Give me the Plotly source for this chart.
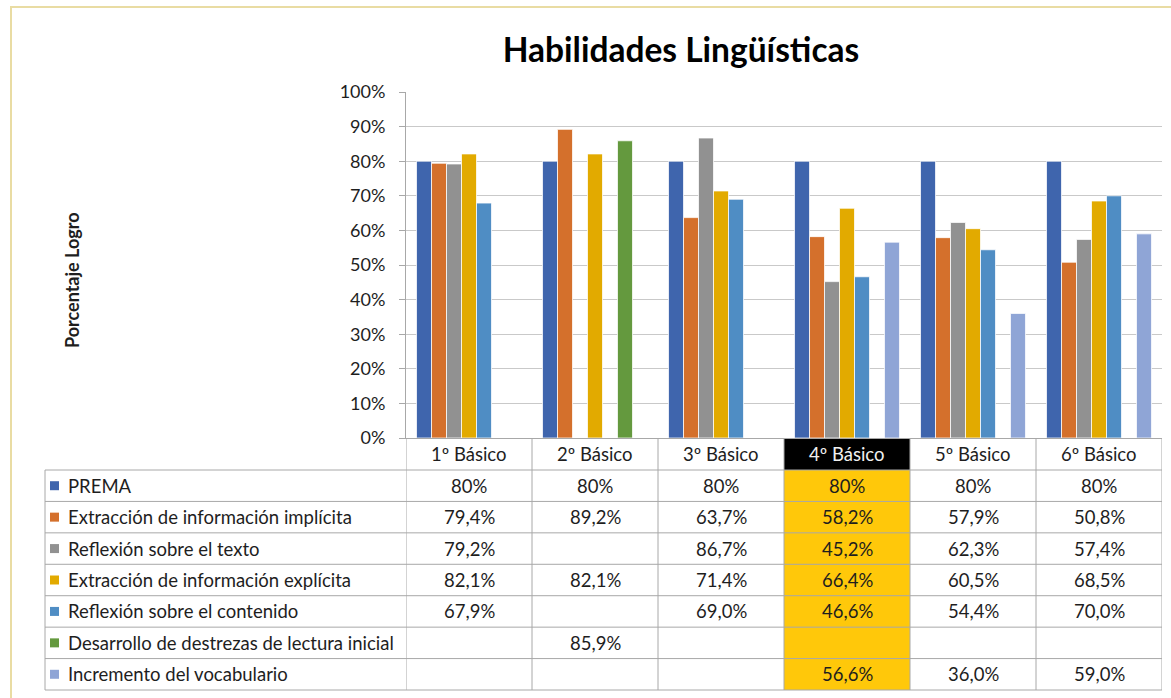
import plotly.graph_objects as go

# ---------------- data ----------------
categories = ["1º Básico", "2º Básico", "3º Básico", "4º Básico", "5º Básico", "6º Básico"]
series_names = [
    "PREMA",
    "Extracción de información implícita",
    "Reflexión sobre el texto",
    "Extracción de información explícita",
    "Reflexión sobre el contenido",
    "Desarrollo de destrezas de lectura inicial",
    "Incremento del vocabulario",
]
prema = [80, 80, 80, 80, 80, 80]
extr_implicita = [79.4, 89.2, 63.7, 58.2, 57.9, 50.8]
reflex_texto = [79.2, None, 86.7, 45.2, 62.3, 57.4]
extr_explicita = [82.1, 82.1, 71.4, 66.4, 60.5, 68.5]
reflex_contenido = [67.9, None, 69.0, 46.6, 54.4, 70.0]
destrezas_lectura = [None, 85.9, None, None, None, None]
vocabulario = [None, None, None, 56.6, 36.0, 59.0]
series_values = [prema, extr_implicita, reflex_texto, extr_explicita,
                 reflex_contenido, destrezas_lectura, vocabulario]
series_decimals = [0, 1, 1, 1, 1, 1, 1]
y_ticks = [0, 10, 20, 30, 40, 50, 60, 70, 80, 90, 100]
y_tick_labels = ["0%", "10%", "20%", "30%", "40%", "50%", "60%", "70%", "80%", "90%", "100%"]
highlight_category = "4º Básico"

# ---------------- style ----------------
colors = ["#3F65AD", "#D4702C", "#919191", "#E2AA00", "#4F8DC4", "#64993E", "#8FA5D6"]
FONT = "Lato"
TXT = "#1e1e1e"
GRID = "#C9C9C9"
TLINE = "#A8A8A8"
FS = 18.5
W, H = 1171, 698
PL, PR, PT, PB = 406, 1162, 92, 438   # plot area pixels

def px(x):
    return (x - PL) / (PR - PL)

def py(y):
    return (PB - y) / (PB - PT)

fig = go.Figure()
for name, vals, col in zip(series_names, series_values, colors):
    fig.add_trace(go.Bar(
        x=categories, y=vals, name=name,
        marker=dict(color=col, line=dict(color="rgba(255,255,255,0.75)", width=1)),
    ))

shapes = []
annotations = []

# frame
shapes.append(dict(type="rect", xref="paper", yref="paper",
                   x0=px(11), x1=px(1185), y0=py(7), y1=py(720),
                   line=dict(color="#E9DCA3", width=2), fillcolor="rgba(0,0,0,0)", layer="below"))

# table geometry
header_top, header_bot = 438, 470
table_left = 45
n_rows = len(series_names)
row_h = (690 - header_bot) / n_rows
hi = categories.index(highlight_category)

# highlight fills
shapes.append(dict(type="rect", xref="x", yref="paper", x0=hi - 0.5, x1=hi + 0.5,
                   y0=py(header_bot), y1=py(header_top), fillcolor="black",
                   line=dict(width=0), layer="below"))
shapes.append(dict(type="rect", xref="x", yref="paper", x0=hi - 0.5, x1=hi + 0.5,
                   y0=py(690), y1=py(header_bot), fillcolor="#FFC80A",
                   line=dict(width=0), layer="below"))

# horizontal lines
for k in range(n_rows + 1):
    yy = header_bot + k * row_h
    shapes.append(dict(type="line", xref="paper", yref="paper",
                       x0=px(table_left), x1=1, y0=py(yy), y1=py(yy),
                       line=dict(color=TLINE, width=1)))
# vertical lines
for i in range(len(categories) + 1):
    shapes.append(dict(type="line", xref="x", yref="paper",
                       x0=i - 0.5, x1=i - 0.5, y0=py(690), y1=py(header_top),
                       line=dict(color=TLINE, width=1)))
shapes.append(dict(type="line", xref="paper", yref="paper",
                   x0=px(table_left), x1=px(table_left), y0=py(690), y1=py(header_bot),
                   line=dict(color=TLINE, width=1)))

# header text
for i, c in enumerate(categories):
    annotations.append(dict(x=c, xref="x", y=py((header_top + header_bot) / 2), yref="paper",
                            text=c, showarrow=False, xanchor="center", yanchor="middle",
                            font=dict(family=FONT, size=FS,
                                      color="#F0F0F0" if i == hi else TXT)))

# rows
for r, (name, vals, col, dec) in enumerate(zip(series_names, series_values, colors, series_decimals)):
    yc = header_bot + (r + 0.5) * row_h
    shapes.append(dict(type="rect", xref="paper", yref="paper",
                       x0=px(50), x1=px(59), y0=py(yc + 4.5), y1=py(yc - 4.5),
                       fillcolor=col, line=dict(width=0)))
    annotations.append(dict(x=px(66), xref="paper", y=py(yc), yref="paper",
                            text=name, showarrow=False, xanchor="left", yanchor="middle",
                            font=dict(family=FONT, size=FS, color=TXT)))
    for c, v in zip(categories, vals):
        if v is None:
            continue
        txt = (f"{v:.{dec}f}".replace(".", ",")) + "%"
        annotations.append(dict(x=c, xref="x", y=py(yc), yref="paper",
                                text=txt, showarrow=False, xanchor="center", yanchor="middle",
                                font=dict(family=FONT, size=FS, color=TXT)))

# axis title
annotations.append(dict(x=px(72), xref="paper", y=py(280), yref="paper",
                        text="<b>Porcentaje Logro</b>", showarrow=False, textangle=-90,
                        xanchor="center", yanchor="middle",
                        font=dict(family=FONT, size=18, color=TXT)))

fig.update_layout(
    width=W, height=H, autosize=False,
    margin=dict(l=PL, r=W - PR, t=PT, b=H - PB, pad=0),
    paper_bgcolor="white", plot_bgcolor="white",
    title=dict(text="<b>Habilidades Lingüísticas</b>", x=px(681), xref="paper", xanchor="center",
               y=1 - 50 / H, yanchor="middle",
               font=dict(family=FONT, size=33.5, color="black")),
    barmode="group", bargap=0.167, bargroupgap=0,
    showlegend=False,
    shapes=shapes, annotations=annotations,
    font=dict(family=FONT, color=TXT),
)
fig.update_xaxes(type="category", range=[-0.5, len(categories) - 0.5],
                 showticklabels=False, showline=True, linecolor=TLINE, linewidth=1,
                 ticks="", showgrid=False, zeroline=False)
fig.update_yaxes(range=[0, 100], tickmode="array", tickvals=y_ticks, ticktext=y_tick_labels,
                 showgrid=True, gridcolor=GRID, gridwidth=1,
                 showline=True, linecolor=TLINE, linewidth=1,
                 ticks="outside", ticklen=6, tickcolor=TLINE,
                 tickfont=dict(family=FONT, size=18, color=TXT),
                 zeroline=False, ticklabelstandoff=10)

fig.write_html("out.html", config={"displayModeBar": False},
               post_script="document.body.style.margin='0px';")
